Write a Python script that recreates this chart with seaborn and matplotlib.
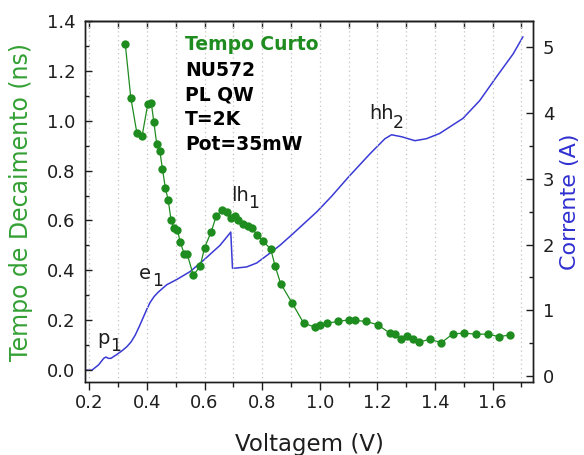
import matplotlib
matplotlib.use("Agg")
import matplotlib.pyplot as plt
from matplotlib.ticker import MultipleLocator, FormatStrFormatter
import pandas as pd
import seaborn as sns

sns.set_theme(style="ticks")
plt.rcParams["font.family"] = ["DejaVu Sans"]

# Decay time (short component) versus bias voltage
voltage_tau = [0.325, 0.344, 0.365, 0.383, 0.403, 0.415, 0.424, 0.434, 0.445, 0.454,
               0.464, 0.474, 0.484, 0.495, 0.506, 0.515, 0.530, 0.540, 0.561, 0.585,
               0.600, 0.623, 0.640, 0.660, 0.679, 0.691, 0.706, 0.717, 0.735, 0.752,
               0.764, 0.783, 0.804, 0.830, 0.845, 0.864, 0.904, 0.944, 0.984, 1.002,
               1.024, 1.064, 1.103, 1.122, 1.162, 1.202, 1.243, 1.260, 1.283, 1.303,
               1.324, 1.343, 1.382, 1.422, 1.462, 1.500, 1.543, 1.583, 1.622, 1.661]
tau_ns = [1.306, 1.093, 0.952, 0.937, 1.067, 1.073, 0.995, 0.907, 0.877, 0.806,
          0.730, 0.681, 0.600, 0.569, 0.562, 0.515, 0.464, 0.464, 0.380, 0.417,
          0.491, 0.554, 0.616, 0.642, 0.632, 0.609, 0.618, 0.602, 0.585, 0.578,
          0.571, 0.540, 0.517, 0.484, 0.417, 0.347, 0.269, 0.188, 0.172, 0.180,
          0.188, 0.195, 0.202, 0.199, 0.195, 0.181, 0.148, 0.144, 0.125, 0.137,
          0.125, 0.112, 0.123, 0.110, 0.145, 0.148, 0.144, 0.144, 0.134, 0.141]

# Current-voltage curve
voltage_iv = [0.186, 0.209, 0.232, 0.250, 0.258, 0.266, 0.275, 0.296, 0.315, 0.331,
              0.345, 0.359, 0.373, 0.388, 0.400, 0.411, 0.425, 0.440, 0.469, 0.504,
              0.550, 0.596, 0.654, 0.691, 0.697, 0.702, 0.746, 0.781, 0.827, 0.862,
              0.908, 0.990, 1.040, 1.070, 1.100, 1.174, 1.226, 1.249, 1.284, 1.330,
              1.370, 1.416, 1.497, 1.555, 1.613, 1.671, 1.705]
current_a = [0.09, 0.09, 0.17, 0.27, 0.29, 0.27, 0.27, 0.33, 0.39, 0.45,
             0.52, 0.62, 0.75, 0.90, 1.02, 1.12, 1.21, 1.28, 1.39, 1.47,
             1.59, 1.76, 1.99, 2.19, 1.64, 1.64, 1.66, 1.72, 1.87, 1.99,
             2.17, 2.50, 2.73, 2.88, 3.03, 3.38, 3.61, 3.67, 3.64, 3.58,
             3.61, 3.69, 3.92, 4.19, 4.55, 4.90, 5.16]

info_lines = ["NU572", "PL QW", "T=2K", "Pot=35mW"]
x_ticks = [0.2, 0.4, 0.6, 0.8, 1.0, 1.2, 1.4, 1.6]

green = "#1f8c1f"
green_label = "#34a034"
blue = "#3a3ad6"
blue_label = "#3030d2"
ink = "#1e1e1e"

tau_df = pd.DataFrame({"Voltagem": voltage_tau, "Tau": tau_ns})
iv_df = pd.DataFrame({"Voltagem": voltage_iv, "Corrente": current_a})

fig = plt.figure(figsize=(5.84, 4.55), dpi=100)
ax = fig.add_axes([0.1455, 0.1604, 0.7672, 0.7934])
ax2 = ax.twinx()

# current curve on the right axis
sns.lineplot(data=iv_df, x="Voltagem", y="Corrente", ax=ax2, color=blue,
             linewidth=1.1, estimator=None, sort=False)

# decay time on the left axis, drawn above the current curve
ax.set_zorder(ax2.get_zorder() + 1)
ax.patch.set_visible(False)
sns.lineplot(data=tau_df, x="Voltagem", y="Tau", ax=ax, color=green,
             linewidth=0.9, marker="o", markersize=6, markeredgewidth=0,
             estimator=None, sort=False)

ax.set_xlim(0.185, 1.74)
ax.set_ylim(-0.048, 1.4)
ax2.set_ylim(-0.09, 5.4)

ax.set_xticks(x_ticks)
ax.xaxis.set_minor_locator(MultipleLocator(0.1))
ax.yaxis.set_major_locator(MultipleLocator(0.2))
ax.yaxis.set_minor_locator(MultipleLocator(0.1))
ax2.yaxis.set_major_locator(MultipleLocator(1))
ax2.yaxis.set_minor_locator(MultipleLocator(0.5))
ax.xaxis.set_major_formatter(FormatStrFormatter("%.1f"))
ax.yaxis.set_major_formatter(FormatStrFormatter("%.1f"))

ax.grid(axis="x", which="both", linestyle=(0, (1, 2.5)), color="#c4c4c4", linewidth=0.9)
ax.set_axisbelow(True)

ax.tick_params(axis="x", which="major", direction="out", length=5.5, width=1.0,
               labelsize=13, pad=3, colors=ink)
ax.tick_params(axis="x", which="minor", direction="out", length=3.5, width=1.0, colors=ink)
ax.tick_params(axis="y", which="major", direction="in", length=5, width=1.0,
               labelsize=13, pad=7, colors=ink)
ax.tick_params(axis="y", which="minor", direction="in", length=3, width=1.0, colors=ink)
ax2.tick_params(axis="y", which="major", direction="in", length=5, width=1.0,
                labelsize=13, pad=7, colors=ink)
ax2.tick_params(axis="y", which="minor", direction="in", length=3, width=1.0, colors=ink)

top = ax.secondary_xaxis("top")
top.set_xticks([0.2 + 0.1 * i for i in range(16)])
top.tick_params(direction="in", length=5, width=1.0, labeltop=False, colors=ink)

for a in (ax, ax2):
    for s in a.spines.values():
        s.set_linewidth(1.0)
        s.set_color(ink)
top.spines["top"].set_linewidth(1.0)
top.spines["top"].set_color(ink)

ax.set_xlabel("Voltagem (V)", fontsize=16.5, labelpad=15, color=ink)
ax.set_ylabel("Tempo de Decaimento (ns)", fontsize=17, color=green_label, labelpad=10)
ax2.set_ylabel("Corrente (A)", fontsize=16, color=blue_label, labelpad=4)

# sample info block
ax.text(0.533, 1.306, "Tempo Curto", fontsize=13.5, fontweight="bold",
        color=green, va="center", ha="left")
for i, line in enumerate(info_lines):
    ax.text(0.533, 1.203 - i * 0.1, line, fontsize=13.5, fontweight="bold",
            color="black", va="center", ha="left")

# transition labels with subscripts
def level_label(x, y, base, sub, dx, dy):
    ax.text(x, y, base, fontsize=14, color=ink, ha="left", va="baseline")
    ax.annotate(sub, xy=(x, y), xytext=(dx, dy), textcoords="offset points",
                fontsize=12.5, color=ink, ha="left", va="baseline")

level_label(0.226, 0.105, "p", "1", 9.5, -5)
level_label(0.372, 0.365, "e", "1", 9.5, -5)
level_label(0.693, 0.677, "lh", "1", 12, -4.5)
level_label(1.170, 1.005, "hh", "2", 17, -6)

fig.savefig("out.png", dpi=100)
